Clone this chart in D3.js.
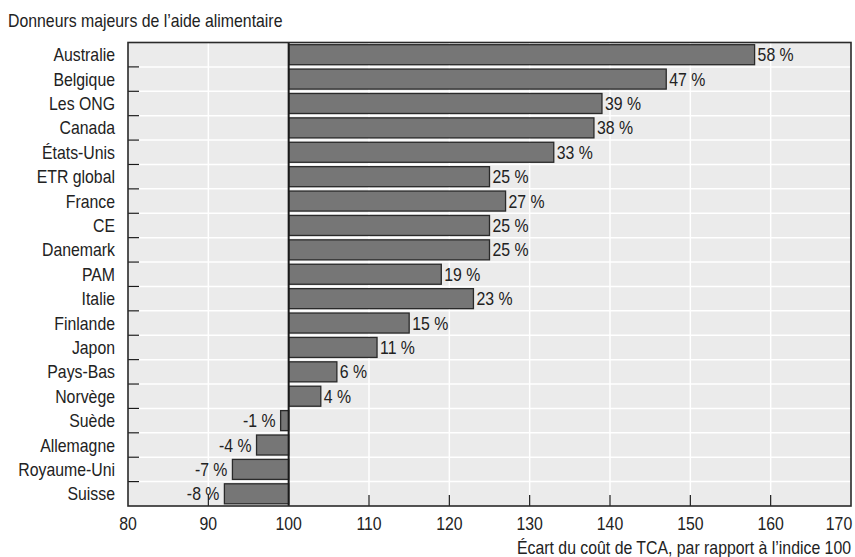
<!DOCTYPE html>
<html>
<head>
<meta charset="utf-8">
<script src="https://cdn.jsdelivr.net/npm/d3@7"></script>
<style>
  html, body { margin: 0; padding: 0; background: #fff; }
  svg text { font-family: "Liberation Sans", Arial, sans-serif; fill: #222; }
</style>
</head>
<body>
<svg id="chart" width="855" height="557"></svg>
<script>
// Food aid donors: deviation of tied aid cost vs. index 100
const donors = ["Australie", "Belgique", "Les ONG", "Canada", "États-Unis", "ETR global",
  "France", "CE", "Danemark", "PAM", "Italie", "Finlande", "Japon", "Pays-Bas",
  "Norvège", "Suède", "Allemagne", "Royaume-Uni", "Suisse"];
const deviation = [58, 47, 39, 38, 33, 25, 27, 25, 25, 19, 23, 15, 11, 6, 4, -1, -4, -7, -8];
const xTicks = [80, 90, 100, 110, 120, 130, 140, 150, 160, 170];
const baseIndex = 100;
const title = "Donneurs majeurs de l\u2019aide alimentaire";
const xTitle = "Écart du coût de TCA, par rapport à l\u2019indice 100";

const svg = d3.select("#chart");
const m = { left: 128, right: 851, top: 42.5, bottom: 506 };
const FS = 18, SX = 0.88; // condensed text: size and horizontal squeeze

const x = d3.scaleLinear().domain([80, 170]).range([m.left, m.right]);
const y = d3.scaleBand().domain(donors).range([m.top, m.bottom]).paddingInner(0.18).paddingOuter(0.09);
const rowH = (m.bottom - m.top) / donors.length;

// place a condensed text label at (px, py)
function placeText(sel, px, py) {
  return sel
    .attr("transform", (d, i) => `translate(${px(d, i)},${py(d, i)}) scale(${SX},1)`)
    .attr("font-size", FS);
}

// plot background
svg.append("rect")
  .attr("x", m.left).attr("y", m.top)
  .attr("width", m.right - m.left).attr("height", m.bottom - m.top)
  .attr("fill", "#ebebeb");

// white row separators
svg.append("g").selectAll("line")
  .data(d3.range(1, donors.length))
  .join("line")
  .attr("x1", m.left).attr("x2", m.right)
  .attr("y1", i => m.top + i * rowH).attr("y2", i => m.top + i * rowH)
  .attr("stroke", "#fff").attr("stroke-width", 1.5);

// white vertical grid
svg.append("g").selectAll("line")
  .data(xTicks.filter(t => t > 80 && t < 170 && t !== baseIndex))
  .join("line")
  .attr("x1", d => x(d)).attr("x2", d => x(d))
  .attr("y1", m.top).attr("y2", m.bottom)
  .attr("stroke", "#fff").attr("stroke-width", 1.5);

const rows = donors.map((d, i) => ({ name: d, v: deviation[i] }));

// bars from the base index
svg.append("g").selectAll("rect")
  .data(rows)
  .join("rect")
  .attr("x", d => x(Math.min(baseIndex, baseIndex + d.v)))
  .attr("y", d => y(d.name))
  .attr("width", d => Math.abs(x(baseIndex + d.v) - x(baseIndex)))
  .attr("height", y.bandwidth())
  .attr("fill", "#767676")
  .attr("stroke", "#2a2a2a").attr("stroke-width", 1.3);

// value labels
placeText(
  svg.append("g").selectAll("text").data(rows).join("text"),
  d => d.v >= 0 ? x(baseIndex + d.v) + 3 : x(baseIndex + d.v) - 5,
  d => y(d.name) + y.bandwidth() / 2 + 6.5
)
  .attr("text-anchor", d => d.v >= 0 ? "start" : "end")
  .text(d => d.v + " %");

// base index line
svg.append("line")
  .attr("x1", x(baseIndex)).attr("x2", x(baseIndex))
  .attr("y1", m.top).attr("y2", m.bottom)
  .attr("stroke", "#1a1a1a").attr("stroke-width", 2);

// left tick marks between rows
svg.append("g").selectAll("line")
  .data(d3.range(1, donors.length))
  .join("line")
  .attr("x1", m.left).attr("x2", m.left + 11)
  .attr("y1", i => m.top + i * rowH).attr("y2", i => m.top + i * rowH)
  .attr("stroke", "#1a1a1a").attr("stroke-width", 1.2);

// bottom tick marks
svg.append("g").selectAll("line")
  .data(xTicks.filter(t => t > 80 && t < 170 && t !== baseIndex))
  .join("line")
  .attr("x1", d => x(d)).attr("x2", d => x(d))
  .attr("y1", m.bottom - 11).attr("y2", m.bottom)
  .attr("stroke", "#1a1a1a").attr("stroke-width", 1.2);

// frame
svg.append("rect")
  .attr("x", m.left).attr("y", m.top)
  .attr("width", m.right - m.left).attr("height", m.bottom - m.top)
  .attr("fill", "none").attr("stroke", "#2a2a2a").attr("stroke-width", 1.6);

// category labels
placeText(
  svg.append("g").selectAll("text").data(donors).join("text"),
  () => 115,
  d => y(d) + y.bandwidth() / 2 + 6.5
)
  .attr("text-anchor", "end")
  .text(d => d);

// x tick labels
placeText(
  svg.append("g").selectAll("text").data(xTicks).join("text"),
  d => d === 170 ? x(d) - 12 : x(d),
  () => 530
)
  .attr("text-anchor", "middle")
  .text(d => d);

// titles
placeText(svg.append("text"), () => 8, () => 27).text(title);

placeText(svg.append("text"), () => m.right, () => 554)
  .attr("text-anchor", "end")
  .text(xTitle);
</script>
</body>
</html>
